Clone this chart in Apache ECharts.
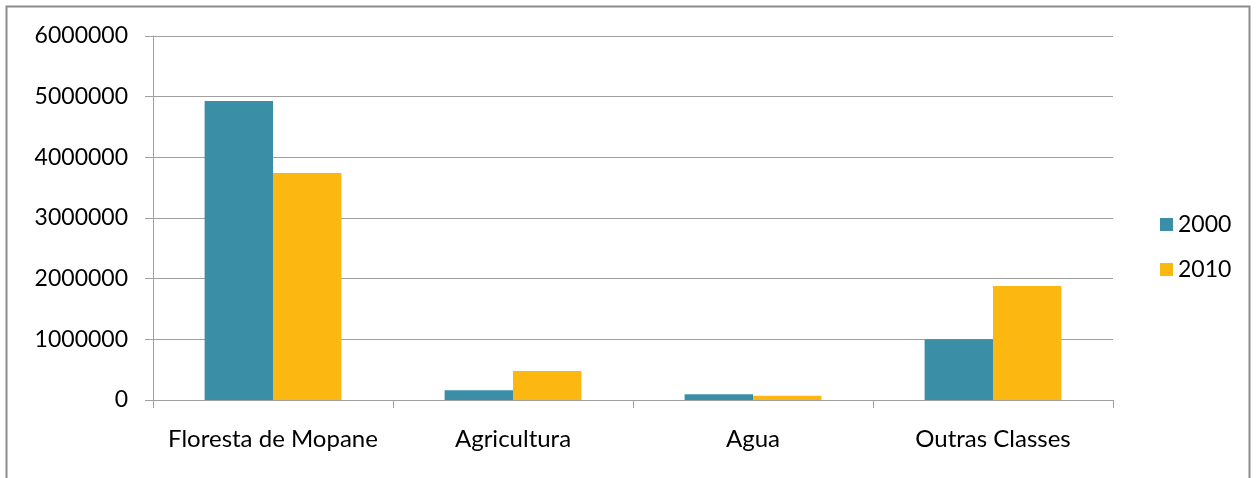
<!DOCTYPE html>
<html>
<head>
<meta charset="utf-8">
<script src="https://cdn.jsdelivr.net/npm/echarts@6/dist/echarts.min.js"></script>
<style>
  html, body { margin: 0; padding: 0; background: #fff; }
  #chart { width: 1257px; height: 478px; }
</style>
</head>
<body>
<div id="chart"></div>
<script>
// Land cover area by class, 2000 vs 2010
const categories = ['Floresta de Mopane', 'Agricultura', 'Agua', 'Outras Classes'];
const years = ['2000', '2010'];
const values2000 = [4930000, 160000, 95000, 1000000];
const values2010 = [3740000, 480000, 70000, 1880000];

const FONT = 'Lato, "Open Sans", sans-serif';
const chart = echarts.init(document.getElementById('chart'), null, { renderer: 'canvas' });

chart.setOption({
  animation: false,
  backgroundColor: '#ffffff',
  textStyle: { fontFamily: FONT },
  graphic: [{
    type: 'rect',
    shape: { x: 6.5, y: 6.5, width: 1243, height: 490 },
    style: { fill: 'none', stroke: '#8c8c8c', lineWidth: 2 },
    silent: true
  }],
  grid: { left: 153, right: 144, top: 36, bottom: 78 },
  legend: {
    orient: 'vertical',
    left: 1155,
    top: 208,
    itemWidth: 13,
    itemHeight: 13,
    itemGap: 22,
    icon: 'rect',
    textStyle: { fontFamily: FONT, fontSize: 23, color: '#000' },
    data: years
  },
  xAxis: {
    type: 'category',
    data: categories,
    axisLine: { lineStyle: { color: '#a0a0a0', width: 1 } },
    axisTick: { show: true, length: 8, lineStyle: { color: '#a0a0a0' } },
    axisLabel: { fontFamily: FONT, fontSize: 24, color: '#000', margin: 27, interval: 0 }
  },
  yAxis: {
    type: 'value',
    min: 0,
    max: 6000000,
    interval: 1000000,
    axisLine: { show: true, lineStyle: { color: '#a0a0a0', width: 1 } },
    axisTick: { show: true, length: 8, lineStyle: { color: '#a0a0a0' } },
    axisLabel: {
      fontFamily: FONT, fontSize: 23, color: '#000', margin: 25,
      formatter: v => String(v)
    },
    splitLine: { lineStyle: { color: '#a0a0a0', width: 1 } }
  },
  series: [
    {
      name: years[0],
      type: 'bar',
      data: values2000,
      barGap: '0%',
      barCategoryGap: '43%',
      itemStyle: { color: '#3a8fa6' }
    },
    {
      name: years[1],
      type: 'bar',
      data: values2010,
      barGap: '0%',
      barCategoryGap: '43%',
      itemStyle: { color: '#fdb711' }
    }
  ]
});
</script>
</body>
</html>
